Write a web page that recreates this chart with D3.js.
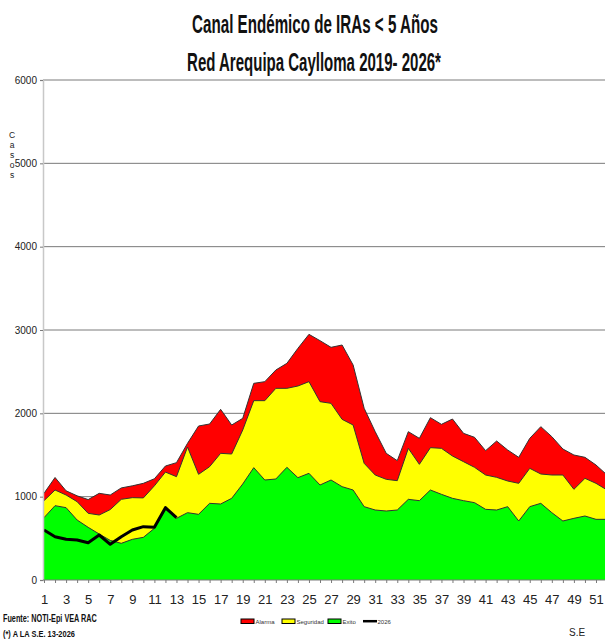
<!DOCTYPE html>
<html><head><meta charset="utf-8">
<script src="https://cdn.jsdelivr.net/npm/d3@7"></script>
<style>html,body{margin:0;padding:0;background:#fff;overflow:hidden}</style>
</head><body>
<script>
const weeks = d3.range(1, 53);
const alarma = [1040,1230,1070,1010,965,1040,1020,1105,1130,1160,1215,1368,1408,1640,1848,1872,2048,1860,1940,2360,2380,2520,2600,2780,2948,2872,2792,2820,2580,2060,1780,1520,1432,1780,1700,1948,1868,1932,1760,1712,1552,1668,1560,1472,1700,1840,1720,1572,1500,1472,1380,1260];
const seguridad = [952,1080,1020,940,800,780,845,968,988,985,1130,1295,1240,1596,1268,1360,1520,1512,1800,2152,2152,2300,2300,2328,2380,2140,2120,1928,1860,1400,1260,1208,1192,1580,1388,1588,1580,1488,1420,1352,1260,1232,1188,1160,1340,1272,1260,1260,1088,1220,1160,1080];
const exito = [748,892,868,720,632,552,475,440,488,512,620,850,740,808,788,920,912,980,1152,1348,1200,1212,1352,1228,1280,1140,1200,1120,1080,880,840,828,840,968,952,1080,1028,980,952,928,848,840,880,708,880,920,808,708,740,768,728,728];
const serie2026 = [600,520,488,480,448,540,428,520,600,640,632,868,748];
const yTicks = [0,1000,2000,3000,4000,5000,6000];
const titleLines = ["Canal Endémico de IRAs < 5 Años", "Red Arequipa Caylloma 2019- 2026*"];
const legendItems = [
  {name:"Alarma", color:"#ff0000", type:"rect"},
  {name:"Seguridad", color:"#ffff00", type:"rect"},
  {name:"Exito", color:"#00ff00", type:"rect"},
  {name:"2026", color:"#000000", type:"line"}
];

const NARROW = "'Liberation Sans Narrow','Arial Narrow','Liberation Sans',Arial,sans-serif";
const W = 605, H = 639;
const svg = d3.select("body").append("svg").attr("width", W).attr("height", H)
  .style("font-family", NARROW);

const x = d3.scaleLinear().domain([1, 52]).range([44, 44 + 51 * 11.04]);
const y = d3.scaleLinear().domain([0, 6000]).range([580, 80]);

// gridlines
svg.append("g").selectAll("line").data(yTicks.filter(d => d > 0)).join("line")
  .attr("x1", 43).attr("x2", W).attr("y1", d => y(d)).attr("y2", d => y(d))
  .attr("stroke", "#7a7a7a").attr("stroke-width", 1);

// areas
const series = [
  {vals: alarma, color: "#ff0000"},
  {vals: seguridad, color: "#ffff00"},
  {vals: exito, color: "#00ff00"}
];
const area = d3.area().x((d, i) => x(weeks[i])).y0(y(0)).y1(d => y(d));
const topLine = d3.line().x((d, i) => x(weeks[i])).y(d => y(d));
series.forEach(s => {
  svg.append("path").datum(s.vals).attr("d", area).attr("fill", s.color).attr("stroke", "none");
  svg.append("path").datum(s.vals).attr("d", topLine).attr("fill", "none")
    .attr("stroke", "#333").attr("stroke-width", 1);
});

// 2026 line
svg.append("path").datum(serie2026)
  .attr("d", d3.line().x((d, i) => x(weeks[i])).y(d => y(d)))
  .attr("fill", "none").attr("stroke", "#000").attr("stroke-width", 3).attr("stroke-linejoin", "round");

// y axis
const yAxis = svg.append("g").attr("transform", "translate(43,0)")
  .call(d3.axisLeft(y).tickValues(yTicks).tickSize(3).tickPadding(3).tickFormat(d3.format("d")));
yAxis.select(".domain").attr("stroke", "#c8c8c8").attr("stroke-width", 1.5);
yAxis.selectAll(".tick line").attr("stroke", "#7a7a7a");
yAxis.selectAll("text").attr("font-size", 10).attr("fill", "#222").style("font-family", NARROW);

// x axis
const xAxis = svg.append("g").attr("transform", "translate(0,580)")
  .call(d3.axisBottom(x).tickValues(weeks).tickSize(3).tickPadding(12)
    .tickFormat(d => (d % 2 === 1 ? d : "")));
xAxis.select(".domain").attr("stroke", "#7a7a7a").attr("stroke-width", 1.2)
  .attr("d", `M43,0H${W}`);
xAxis.selectAll(".tick line").attr("stroke", "#7a7a7a");
xAxis.selectAll("text").attr("font-size", 13).attr("fill", "#222").style("font-family", NARROW);

// y title (stacked letters)
svg.append("g").selectAll("text").data("Casos".split("")).join("text")
  .attr("x", 12).attr("y", (d, i) => 138 + i * 10).attr("text-anchor", "middle")
  .attr("font-size", 8.5).attr("fill", "#222").text(d => d);

// horizontal fit helper for condensed bold text
function fitText(sel, targetW) {
  const w = sel.node().getComputedTextLength();
  const cx = +sel.attr("x"), cy = +sel.attr("y");
  const s = targetW / w;
  sel.attr("transform", `translate(${cx},${cy}) scale(${s},1) translate(${-cx},${-cy})`);
}
const t1 = svg.append("text").attr("x", 315).attr("y", 33).attr("text-anchor", "middle")
  .attr("font-size", 25).attr("font-weight", "bold").attr("fill", "#111").text(titleLines[0]);
fitText(t1, 246);
const t2 = svg.append("text").attr("x", 314).attr("y", 71).attr("text-anchor", "middle")
  .attr("font-size", 25).attr("font-weight", "bold").attr("fill", "#111").text(titleLines[1]);
fitText(t2, 254);

// footers
const f1 = svg.append("text").attr("x", 3).attr("y", 622).attr("font-size", 10).attr("font-weight", "bold")
  .attr("fill", "#111").text("Fuente: NOTI-Epi VEA RAC");
fitText(f1, 94);
const f2 = svg.append("text").attr("x", 3).attr("y", 637).attr("font-size", 9).attr("font-weight", "bold")
  .attr("fill", "#111").text("(*) A LA S.E. 13-2026");
fitText(f2, 72);
svg.append("text").attr("x", 569).attr("y", 636).attr("font-size", 10).attr("fill", "#222").text("S.E");

// legend
const legendX = [241, 282, 328, 363];
const lg = svg.append("g");
legendItems.forEach((it, i) => {
  const g = lg.append("g").attr("transform", `translate(${legendX[i]},619)`);
  if (it.type === "rect") {
    g.append("rect").attr("x", 0).attr("y", 0).attr("width", 13).attr("height", 4.5)
      .attr("fill", it.color).attr("stroke", "#000").attr("stroke-width", 1);
  } else {
    g.append("line").attr("x1", 0).attr("x2", 14).attr("y1", 2.2).attr("y2", 2.2)
      .attr("stroke", "#000").attr("stroke-width", 2.5);
  }
  g.append("text").attr("x", 14.5).attr("y", 4.8).attr("font-size", 6).attr("fill", "#333").text(it.name);
});
</script>
</body></html>
